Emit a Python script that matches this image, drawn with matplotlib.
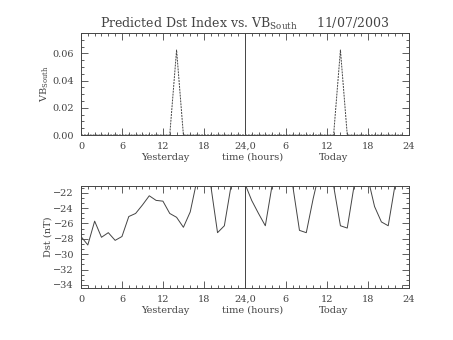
import matplotlib
matplotlib.use("Agg")
import matplotlib.pyplot as plt
from matplotlib.ticker import MultipleLocator

# hours since start of "yesterday" (0..47)
hours = list(range(48))

# VB south (hourly)
vb_south = [0.0] * 48
vb_south[14] = 0.0625
vb_south[38] = 0.0625

# predicted Dst (nT), values above the plot top are clipped in the original
dst = [-27.7, -28.8, -25.7, -27.8, -27.2, -28.2, -27.7, -25.1, -24.7, -23.6,
       -22.4, -23.0, -23.1, -24.7, -25.2, -26.5, -24.5, -20.3, -19.5, -21.0,
       -27.2, -26.3, -21.0, -19.5, -20.8, -23.0, -24.7, -26.3, -21.0, -19.5,
       -19.5, -21.0, -26.9, -27.2, -22.8, -19.0, -19.5, -21.1, -26.3, -26.6,
       -21.1, -19.5, -20.0, -23.8, -25.8, -26.3, -21.0, -19.5]

tick_pos = [0, 6, 12, 18, 24, 30, 36, 42, 48]
tick_lab = ["0", "6", "12", "18", "24,0", "6", "12", "18", "24"]

plt.rcParams['font.family'] = ['DejaVu Serif']
plt.rcParams['mathtext.fontset'] = 'dejavuserif'
ink = '#444444'

fig = plt.figure(figsize=(4.53, 3.40), dpi=100)
ax1 = fig.add_axes([0.1788, 0.6029, 0.7234, 0.300])
ax2 = fig.add_axes([0.1788, 0.1529, 0.7234, 0.300])


def style(ax):
    ax.set_xlim(0, 48)
    ax.set_xticks(tick_pos)
    ax.set_xticklabels(tick_lab)
    ax.xaxis.set_minor_locator(MultipleLocator(1))
    ax.tick_params(which='both', direction='in', top=True, right=True,
                   colors=ink, labelsize=7, width=0.6)
    ax.tick_params(which='major', length=5, pad=5)
    ax.tick_params(which='minor', length=2.5)
    for s in ax.spines.values():
        s.set_color(ink)
        s.set_linewidth(0.7)
    ax.axvline(24, color=ink, lw=0.7)
    tr = ax.get_xaxis_transform()
    ax.text(12.4, -0.22, "Yesterday", transform=tr, ha='center', va='center',
            fontsize=7, color=ink)
    ax.text(25.1, -0.22, "time (hours)", transform=tr, ha='center', va='center',
            fontsize=7, color=ink)
    ax.text(37.0, -0.22, "Today", transform=tr, ha='center', va='center',
            fontsize=7, color=ink)


ax1.plot(hours, vb_south, color=ink, lw=0.7, ls=(0, (2, 1)))
style(ax1)
ax1.set_ylim(0, 0.075)
ax1.set_yticks([0.0, 0.02, 0.04, 0.06])
ax1.set_yticklabels(["0.00", "0.02", "0.04", "0.06"])
ax1.yaxis.set_minor_locator(MultipleLocator(0.005))
ax1.set_ylabel(r"VB$_{\rm South}$", fontsize=7, color=ink, labelpad=1)
ax1.set_title(r"Predicted Dst Index vs. VB$_{\rm South}$     11/07/2003",
              fontsize=9, color=ink, pad=4)

ax2.plot(hours, dst, color=ink, lw=0.7)
style(ax2)
ax2.set_ylim(-34.4, -21.13)
ax2.set_yticks(range(-34, -21, 2))
ax2.yaxis.set_minor_locator(MultipleLocator(2 / 3))
ax2.set_ylabel("Dst (nT)", fontsize=7, color=ink, labelpad=1)

fig.savefig("out.png", dpi=100)
